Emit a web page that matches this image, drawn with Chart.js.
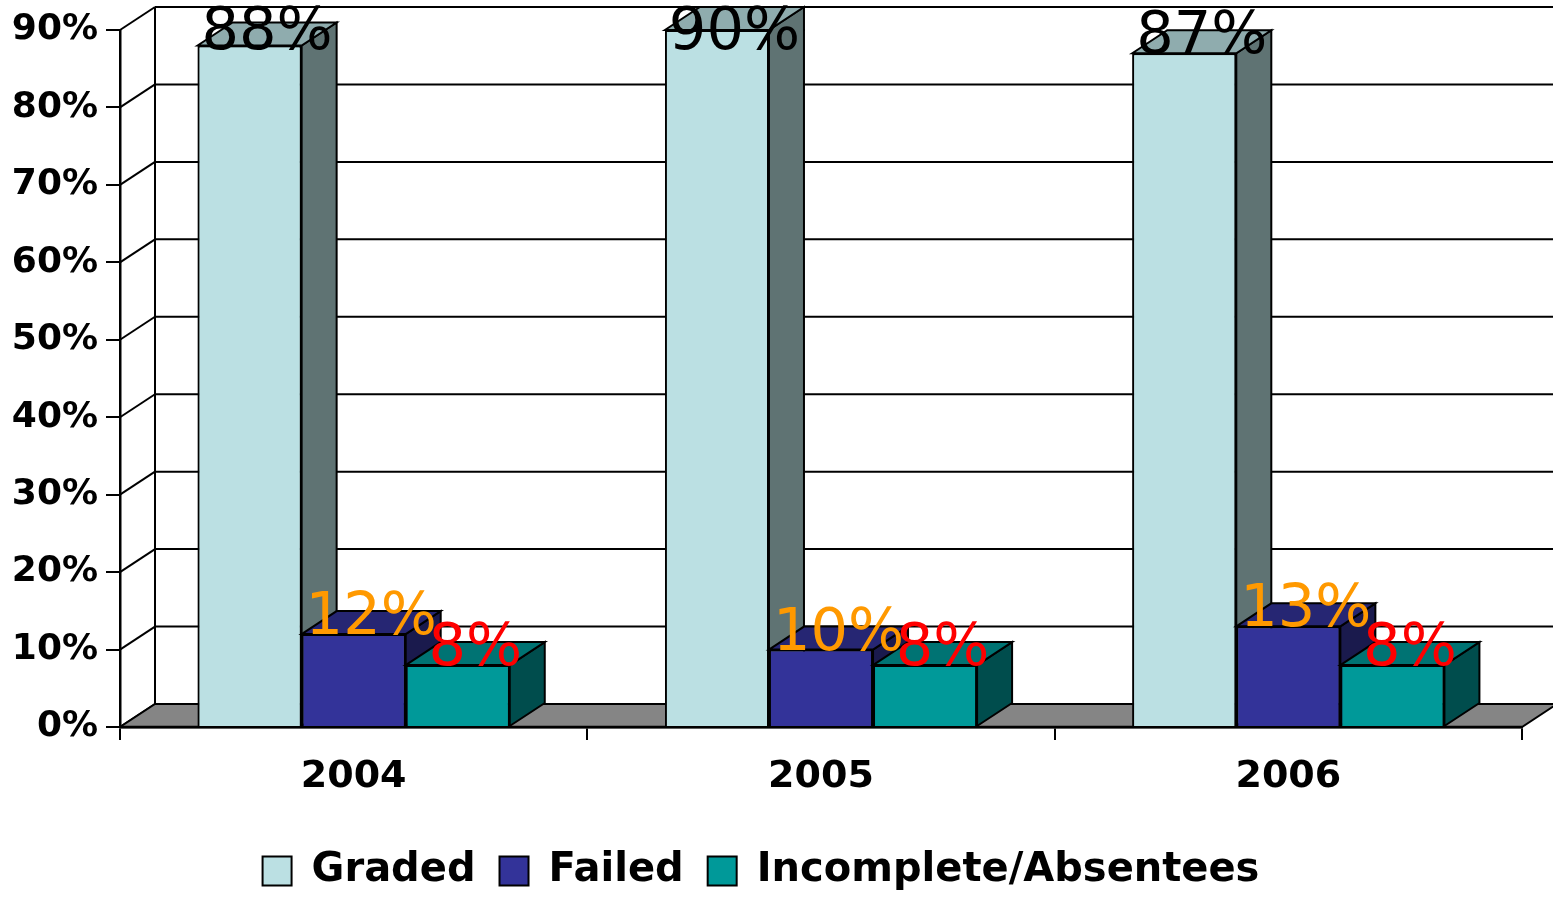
<!DOCTYPE html>
<html>
<head>
<meta charset="utf-8">
<script src="https://cdn.jsdelivr.net/npm/chart.js@4"></script>
<style>
  html, body { margin: 0; padding: 0; background: #fff; }
  #wrap { width: 1553px; height: 897px; }
</style>
</head>
<body>
<div id="wrap"><canvas id="chart"></canvas></div>
<script>
// data
var years = ['2004', '2005', '2006'];
var graded = [88, 90, 87];
var failed = [12, 10, 13];
var incomplete = [8, 8, 8];
var seriesNames = ['Graded', 'Failed', 'Incomplete/Absentees'];
var yMax = 90;
var yStep = 10;

// colours: front, top, side, label
var fronts = ['#BBE0E3', '#333399', '#009999'];
var tops = ['#8FACAE', '#262673', '#007373'];
var sides = ['#5F7373', '#1A1A4D', '#004D4D'];
var labelColors = ['#000000', '#FF9900', '#FF0000'];

Chart.defaults.font.family = "'DejaVu Sans', sans-serif";

// depth of the fake 3d box
var DX = 35, DY = 23;

function poly(ctx, pts, fill) {
    ctx.beginPath();
    ctx.moveTo(pts[0][0], pts[0][1]);
    for (var i = 1; i < pts.length; i++) ctx.lineTo(pts[i][0], pts[i][1]);
    ctx.closePath();
    if (fill) { ctx.fillStyle = fill; ctx.fill(); }
    ctx.stroke();
}

function line(ctx, x1, y1, x2, y2) {
    ctx.beginPath();
    ctx.moveTo(x1, y1);
    ctx.lineTo(x2, y2);
    ctx.stroke();
}

const threeD = {
    id: 'threeD',
    beforeDatasetsDraw(chart) {
        const ctx = chart.ctx;
        const a = chart.chartArea;
        const y = chart.scales.y;
        const y0 = y.getPixelForValue(0);
        ctx.save();
        ctx.strokeStyle = '#000';
        ctx.lineWidth = 2;
        // back wall grid + diagonals
        y.ticks.forEach(function(t) {
            var py = y.getPixelForValue(t.value);
            line(ctx, a.left, py, a.left + DX, py - DY);
            line(ctx, a.left + DX, py - DY, chart.width, py - DY);
        });
        line(ctx, a.left + DX, y.getPixelForValue(yMax) - DY, a.left + DX, y0 - DY);
        // floor
        poly(ctx, [[a.left, y0], [a.right, y0], [a.right + DX, y0 - DY], [a.left + DX, y0 - DY]], '#858585');
        ctx.lineWidth = 2.5;
        line(ctx, a.left, y0, a.right, y0);
        ctx.restore();
    },
    afterDatasetsDraw(chart) {
        const ctx = chart.ctx;
        const n = chart.data.labels.length;
        const nd = chart.data.datasets.length;
        ctx.save();
        for (var i = 0; i < n; i++) {
            for (var d = 0; d < nd; d++) {
                var el = chart.getDatasetMeta(d).data[i];
                var p = el.getProps(['x', 'y', 'base', 'width'], true);
                var l = p.x - p.width / 2, r = p.x + p.width / 2;
                ctx.strokeStyle = '#000';
                ctx.lineWidth = 2;
                poly(ctx, [[r, p.y], [r + DX, p.y - DY], [r + DX, p.base - DY], [r, p.base]], sides[d]);
                poly(ctx, [[l, p.y], [l + DX, p.y - DY], [r + DX, p.y - DY], [r, p.y]], tops[d]);
                el.draw(ctx);
            }
        }
        // value labels
        ctx.font = "59px 'DejaVu Sans'";
        ctx.textAlign = 'center';
        ctx.textBaseline = 'alphabetic';
        for (var i = 0; i < n; i++) {
            for (var d = 0; d < nd; d++) {
                var el = chart.getDatasetMeta(d).data[i];
                var p = el.getProps(['x', 'y'], true);
                ctx.fillStyle = labelColors[d];
                ctx.fillText(chart.data.datasets[d].data[i] + '%', p.x + DX / 2, Math.max(p.y, 49));
            }
        }
        ctx.restore();
    }
};

const ctx = document.getElementById('chart');
new Chart(ctx, {
    type: 'bar',
    data: {
        labels: years,
        datasets: [graded, failed, incomplete].map(function(vals, k) {
            return {
                label: seriesNames[k],
                data: vals,
                backgroundColor: fronts[k],
                borderColor: '#000',
                borderWidth: 2,
                categoryPercentage: 0.668,
                barPercentage: 1.0
            };
        })
    },
    options: {
        responsive: true,
        maintainAspectRatio: false,
        animation: false,
        layout: { padding: { top: 30, right: 31, left: 0, bottom: -4 } },
        scales: {
            x: {
                grid: { drawOnChartArea: false, color: '#000', lineWidth: 2, tickLength: 13 },
                border: { color: '#000', width: 2.5 },
                ticks: { color: '#000', font: { size: 38, weight: 'bold' }, padding: 14 },
                afterFit: function(scale) { scale.height = 100; }
            },
            y: {
                min: 0,
                max: yMax,
                grid: { drawOnChartArea: false, color: '#000', lineWidth: 2, tickLength: 14 },
                border: { color: '#000', width: 2.5 },
                ticks: {
                    stepSize: yStep,
                    color: '#000',
                    padding: 8,
                    font: { size: 36, weight: 'bold' },
                    callback: function(v) { return v + '%'; }
                },
                afterFit: function(scale) { scale.width = 120; }
            }
        },
        plugins: {
            legend: {
                position: 'bottom',
                labels: {
                    color: '#000',
                    boxWidth: 29,
                    boxHeight: 29,
                    padding: 24,
                    font: { size: 40, weight: 'bold' }
                }
            },
            tooltip: { enabled: false }
        }
    },
    plugins: [threeD]
});
</script>
</body>
</html>
